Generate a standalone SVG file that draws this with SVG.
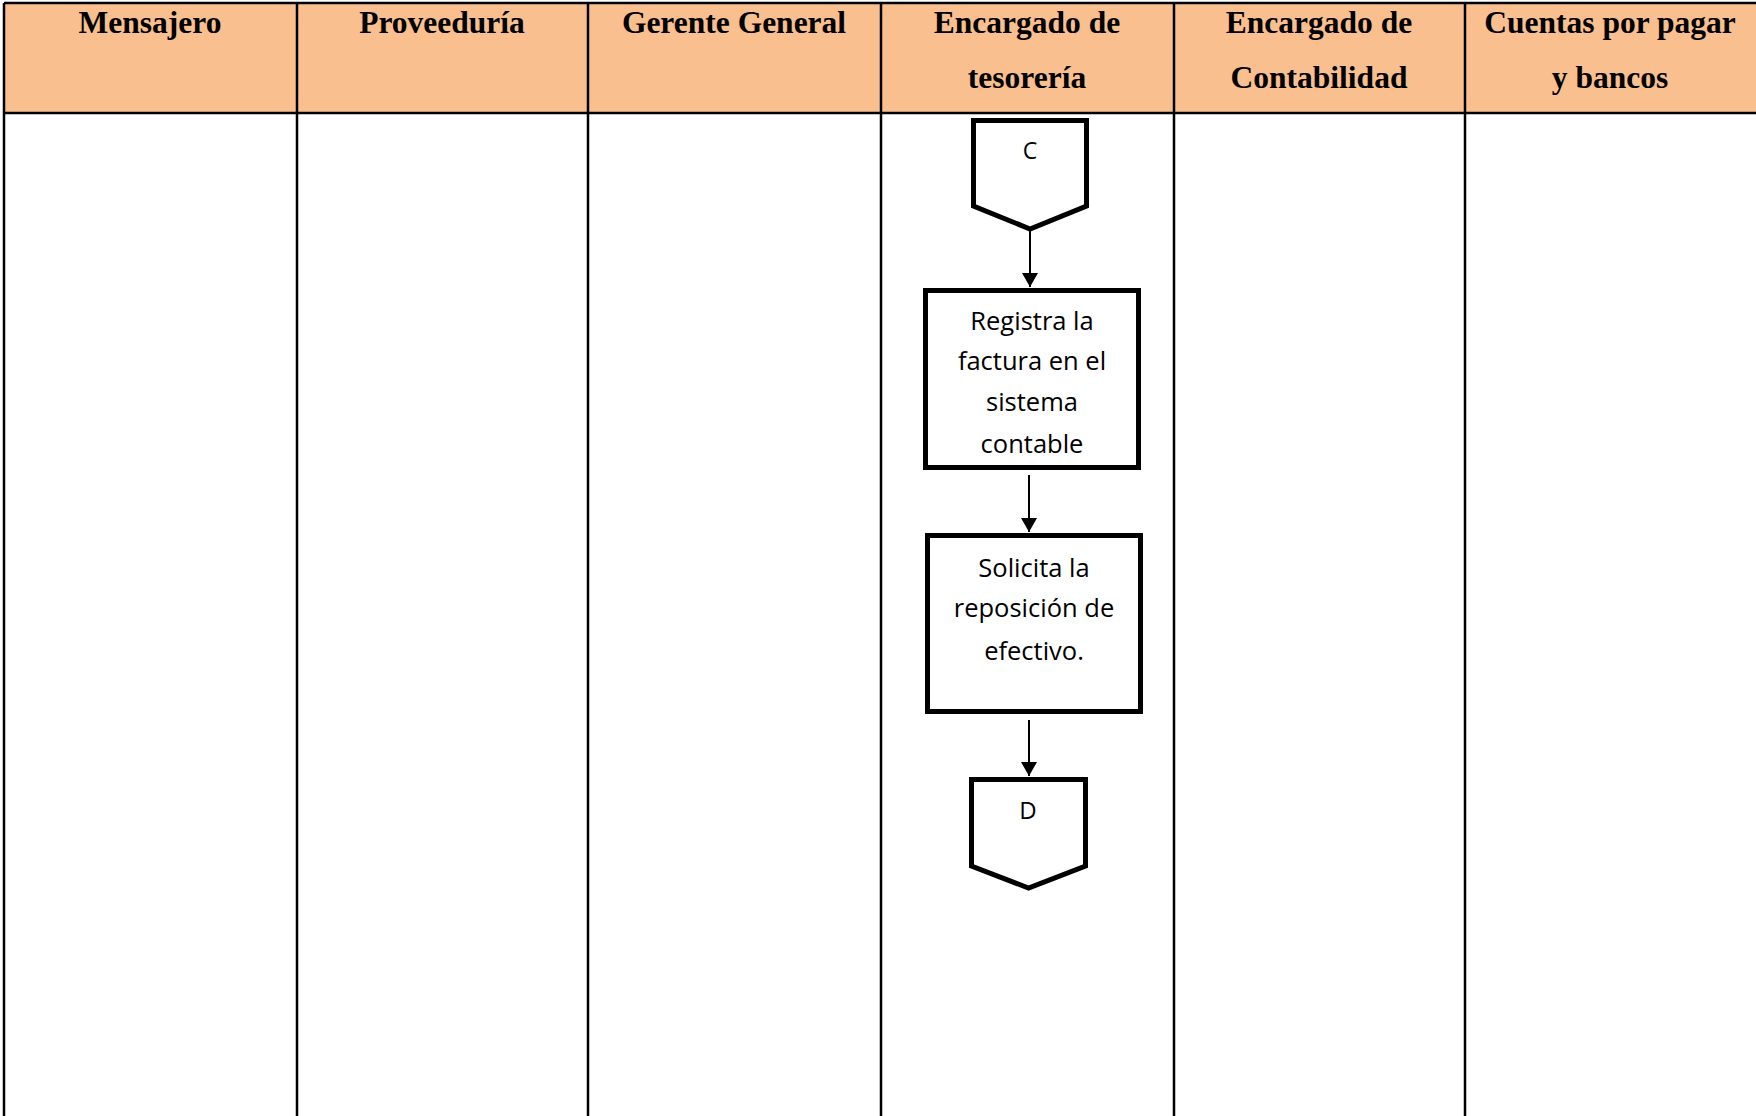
<svg xmlns="http://www.w3.org/2000/svg" width="1756" height="1116" viewBox="0 0 1756 1116">
  <defs>
    <marker id="arrow" viewBox="0 0 14 16" refX="14" refY="8" markerWidth="14" markerHeight="16" markerUnits="userSpaceOnUse" orient="auto">
      <path d="M0,0 L14,8 L0,16 Z" fill="#000"/>
    </marker>
  </defs>
  <style>
    .grid { stroke: #000; stroke-width: 2.5; fill: none; }
    .head { font-family: "Liberation Serif", "Times New Roman", serif; font-weight: bold; font-size: 31.5px; fill: #000; text-anchor: middle; }
    .shape { fill: #fff; stroke: #000; stroke-width: 5; stroke-linejoin: miter; }
    .label { font-family: "Open Sans", "Noto Sans", sans-serif; font-size: 25.5px; fill: #000; text-anchor: middle; }
    .conn { stroke: #000; stroke-width: 2; fill: none; }
  </style>

  <rect width="1756" height="1116" fill="#fff"/>

  <!-- swimlane header band -->
  <g id="lanes">
    <rect x="4" y="3" width="1754" height="110" fill="#F9BF8F"/>
    <line class="grid" x1="4" y1="3" x2="1756" y2="3"/>
    <line class="grid" x1="4" y1="113" x2="1756" y2="113"/>
    <line class="grid" x1="4" y1="3" x2="4" y2="1116"/>
    <line class="grid" x1="297" y1="3" x2="297" y2="1116"/>
    <line class="grid" x1="588" y1="3" x2="588" y2="1116"/>
    <line class="grid" x1="881" y1="3" x2="881" y2="1116"/>
    <line class="grid" x1="1174" y1="3" x2="1174" y2="1116"/>
    <line class="grid" x1="1465" y1="3" x2="1465" y2="1116"/>

    <text class="head" x="150" y="33">Mensajero</text>
    <text class="head" x="442" y="33">Proveeduría</text>
    <text class="head" x="734" y="33">Gerente General</text>
    <text class="head" x="1027" y="33">Encargado de</text>
    <text class="head" x="1027" y="88">tesorería</text>
    <text class="head" x="1319" y="33">Encargado de</text>
    <text class="head" x="1319" y="88">Contabilidad</text>
    <text class="head" x="1610" y="33">Cuentas por pagar</text>
    <text class="head" x="1610" y="88">y bancos</text>
  </g>

  <!-- off-page connector C -->
  <g id="node-c">
    <path class="shape" d="M973.5,120.5 L1086.5,120.5 L1086.5,206 L1030,229 L973.5,206 Z"/>
    <text class="label" x="1030" y="159" style="font-size:23px">C</text>
  </g>

  <!-- process: register invoice -->
  <g id="node-registra">
    <rect class="shape" x="925.5" y="290.5" width="213" height="177"/>
    <text class="label" x="1032" y="329.5">Registra la</text>
    <text class="label" x="1032" y="370">factura en el</text>
    <text class="label" x="1032" y="411">sistema</text>
    <text class="label" x="1032" y="453">contable</text>
  </g>

  <!-- process: request cash replenishment -->
  <g id="node-solicita">
    <rect class="shape" x="927.5" y="535.5" width="213" height="176"/>
    <text class="label" x="1034" y="577">Solicita la</text>
    <text class="label" x="1034" y="617">reposición de</text>
    <text class="label" x="1034" y="660">efectivo.</text>
  </g>

  <!-- off-page connector D -->
  <g id="node-d">
    <path class="shape" d="M971.5,779.5 L1085.5,779.5 L1085.5,866 L1028.5,888 L971.5,866 Z"/>
    <text class="label" x="1028" y="819" style="font-size:24px">D</text>
  </g>

  <!-- flow connectors -->
  <g id="connectors">
    <line class="conn" x1="1030" y1="231" x2="1030" y2="287" marker-end="url(#arrow)"/>
    <line class="conn" x1="1029" y1="475" x2="1029" y2="532" marker-end="url(#arrow)"/>
    <line class="conn" x1="1029" y1="720" x2="1029" y2="776" marker-end="url(#arrow)"/>
  </g>
</svg>
